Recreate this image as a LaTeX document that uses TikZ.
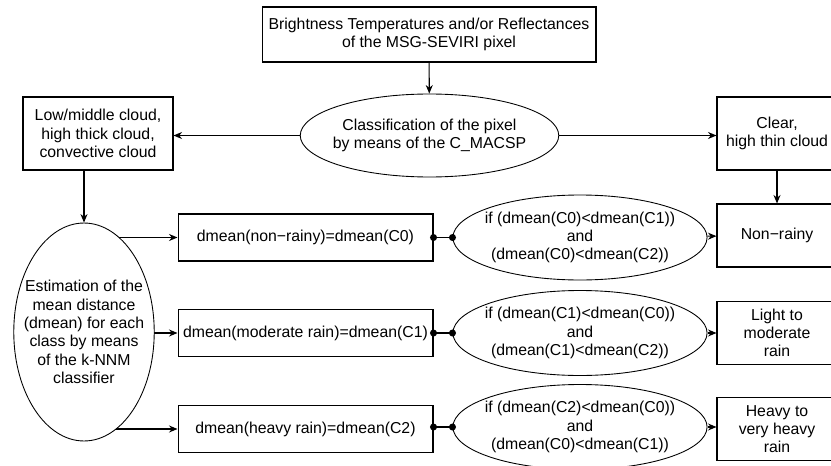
\documentclass[tikz,border=0pt]{standalone}
\usepackage{fontspec}
\setmainfont{Liberation Sans}
\usetikzlibrary{shapes.geometric,arrows.meta,backgrounds}
\begin{document}
\begin{tikzpicture}[x=0.02cm, y=0.02cm]
\tikzstyle{every node}+=[inner sep=0pt, align=center, font=\fontsize{9}{10.4}\selectfont]
\tikzstyle{box}=[draw, line width=0.6pt]
\tikzstyle{oval}=[draw, ellipse, line width=0.5pt, inner sep=-3pt]
\tikzstyle{link}=[line width=0.6pt, -{Stealth[length=1.7mm,width=1.4mm]}]
\useasboundingbox (0,0) rectangle (831,-466);
\clip (0,0) rectangle (831,-466);
\node [box, minimum width=6.68cm, minimum height=1.1cm] (bt) at (429,-34.5) {Brightness Temperatures and/or Reflectances\\of the MSG-SEVIRI pixel};
\node [oval, minimum width=4.7cm, minimum height=1.66cm] (cls) at (429.5,-135.5) {Classification of the pixel\\by means of the C\_MACSP};
\node [box, minimum width=3cm, minimum height=1.46cm] (low) at (98,-133.5) {Low/middle cloud,\\high thick cloud,\\convective cloud};
\node [box, minimum width=2.4cm, minimum height=1.46cm] (clear) at (777,-133.5) {Clear,\\high thin cloud};
\node [oval, fill=white, inner sep=-6pt, minimum width=2.8cm, minimum height=4.36cm] (est) at (84,-332) {Estimation of the\\mean distance\\(dmean) for each\\class by means\\of the k-NNM\\classifier};
\node [box, minimum width=5.1cm, minimum height=0.94cm] (d0) at (305.5,-237.5) {dmean(non−rainy)=dmean(C0)};
\node [box, minimum width=5.1cm, minimum height=0.94cm] (d1) at (305.5,-333) {dmean(moderate rain)=dmean(C1)};
\node [box, minimum width=5.1cm, minimum height=0.94cm] (d2) at (305.5,-429) {dmean(heavy rain)=dmean(C2)};
\node [oval, minimum width=4.72cm, minimum height=1.7cm] (c0) at (580,-237.5) {if (dmean(C0)<dmean(C1))\\and\\(dmean(C0)<dmean(C2))};
\node [oval, minimum width=4.72cm, minimum height=1.7cm] (c1) at (580,-333) {if (dmean(C1)<dmean(C0))\\and\\(dmean(C1)<dmean(C2))};
\node [oval, minimum width=4.72cm, minimum height=1.7cm] (c2) at (580,-427) {if (dmean(C2)<dmean(C0))\\and\\(dmean(C0)<dmean(C1))};
\node [box, minimum width=2.4cm, minimum height=1.26cm] (nr) at (777,-235.5) {Non−rainy};
\node [box, minimum width=2.4cm, minimum height=1.26cm] (lm) at (777,-333) {Light to\\moderate\\rain};
\node [box, minimum width=2.4cm, minimum height=1.26cm] (hv) at (777,-429) {Heavy to\\very heavy\\rain};
% classification
\draw [link] (bt) -- (cls);
\draw [link] (cls.west) -- (cls.west -| low.east);
\draw [link] (cls.east) -- (cls.east -| clear.west);
\draw [link] (low.south -| est.north) -- (est.north);
\draw [link] (clear) -- (nr);
% distances, behind the oval
\begin{pgfonlayer}{background}
\draw [link] (est.center |- d0.west) -- (d0.west);
\draw [link] (est.center |- d1.west) -- (d1.west);
\draw [link] (est.center |- d2.west) -- (d2.west);
\end{pgfonlayer}
% tests
\draw [line width=0.6pt] (d0.east) -- (c0.west);
\draw [line width=0.6pt] (d1.east) -- (c1.west);
\draw [line width=0.6pt] (d2.east |- c2.west) -- (c2.west);
\fill (d0.east) circle (2pt);
\fill (c0.west) circle (2pt);
\fill (d1.east) circle (2pt);
\fill (c1.west) circle (2pt);
\fill (d2.east |- c2.west) circle (2pt);
\fill (c2.west) circle (2pt);
\draw [link] (c0) -- (nr);
\draw [link] (c1) -- (lm);
\draw [link] (c2.east) -- (c2.east -| hv.west);
\end{tikzpicture}
\end{document}
